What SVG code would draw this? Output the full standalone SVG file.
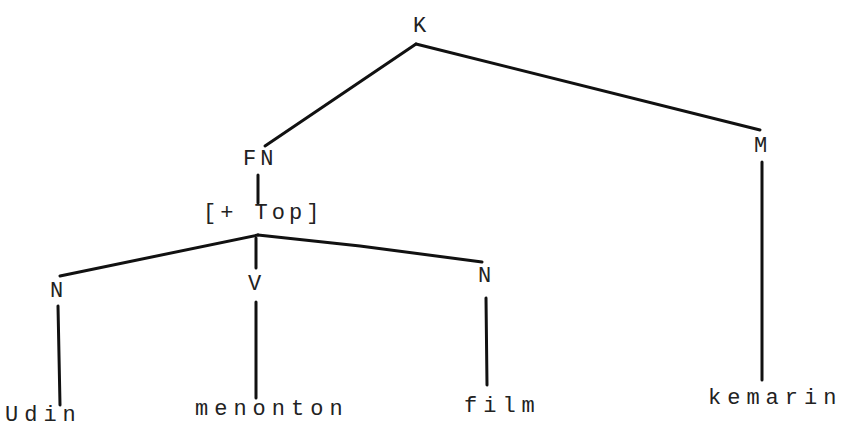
<svg xmlns="http://www.w3.org/2000/svg" width="841" height="428" viewBox="0 0 841 428">
<style>
text{font-family:"Liberation Mono","DejaVu Sans Mono",monospace;font-size:22px;fill:#222;letter-spacing:4px}
.w{letter-spacing:6px}
line,polyline{stroke:#111;stroke-width:3;fill:none;stroke-linecap:round}
</style>
<rect width="841" height="428" fill="#fff"/>
<g id="connectors">
<polyline points="416,44 265,146"/>
<polyline points="416,44 760,130"/>
<line x1="258" y1="175" x2="258" y2="203"/>
<polyline points="258,235 60,276"/>
<polyline points="258,235 360,246 482,262"/>
<line x1="256" y1="238" x2="256" y2="268"/>
<line x1="58" y1="306" x2="60" y2="405"/>
<line x1="256" y1="302" x2="256" y2="398"/>
<line x1="486" y1="298" x2="487" y2="385"/>
<line x1="762" y1="162" x2="762" y2="380"/>
</g>
<g id="K"><text x="413" y="32">K</text></g>
<g id="FN"><text x="243" y="165">FN</text></g>
<g id="M"><text x="754" y="152">M</text></g>
<g id="Top"><text x="203" y="219">[+ Top]</text></g>
<g id="N1"><text x="50" y="297">N</text></g>
<g id="V"><text x="248" y="290">V</text></g>
<g id="N2"><text x="478" y="282">N</text></g>
<g id="Udin"><text class="w" x="5" y="421">Udin</text></g>
<g id="menonton"><text class="w" x="195" y="415">menonton</text></g>
<g id="film"><text class="w" x="464" y="412">film</text></g>
<g id="kemarin"><text class="w" x="708" y="404">kemarin</text></g>
</svg>
